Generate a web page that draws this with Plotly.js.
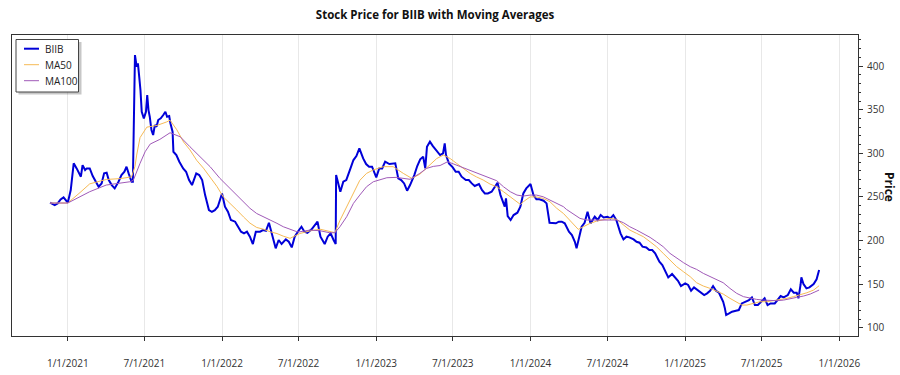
<!DOCTYPE html>
<html>
<head>
<meta charset="utf-8">
<script src="https://cdn.plot.ly/plotly-3.0.1.min.js"></script>
<style>html,body{margin:0;padding:0;background:#fff;}#chart{width:900px;height:375px;}</style>
</head>
<body>
<div id="chart"></div>
<script>
const chartTitle = 'Stock Price for BIIB with Moving Averages';
const yTitle = 'Price';
const seriesNames = ['BIIB', 'MA50', 'MA100'];

const priceDates = [
"2020-11-20","2020-12-01","2020-12-08","2020-12-15","2020-12-22",
"2021-01-01","2021-01-08","2021-01-15","2021-01-22",
"2021-02-01","2021-02-05","2021-02-11","2021-02-15","2021-02-22",
"2021-03-01","2021-03-08","2021-03-15","2021-03-22","2021-03-28",
"2021-04-03","2021-04-08","2021-04-15","2021-04-22",
"2021-05-01","2021-05-08","2021-05-15","2021-05-20","2021-05-25",
"2021-06-01","2021-06-04","2021-06-07","2021-06-09","2021-06-13","2021-06-16","2021-06-19","2021-06-22","2021-06-25","2021-06-30",
"2021-07-05","2021-07-08","2021-07-11","2021-07-14","2021-07-18","2021-07-22","2021-07-26","2021-07-30",
"2021-08-03","2021-08-09","2021-08-15","2021-08-20","2021-08-24","2021-08-29",
"2021-09-01","2021-09-06","2021-09-08","2021-09-15","2021-09-22",
"2021-10-01","2021-10-08","2021-10-15","2021-10-22","2021-11-01","2021-11-08","2021-11-15","2021-11-22","2021-12-01","2021-12-08","2021-12-15","2021-12-22",
"2022-01-01","2022-01-08","2022-01-15","2022-01-22","2022-02-01","2022-02-08","2022-02-15","2022-02-22","2022-03-01","2022-03-08","2022-03-15","2022-03-22",
"2022-04-01","2022-04-08","2022-04-15","2022-04-22","2022-05-01","2022-05-08","2022-05-15","2022-05-22","2022-06-01","2022-06-08","2022-06-15","2022-06-22",
"2022-07-01","2022-07-08","2022-07-15","2022-07-22","2022-08-01","2022-08-08","2022-08-15","2022-08-22","2022-09-01","2022-09-08","2022-09-15","2022-09-22","2022-09-27","2022-09-28",
"2022-10-01","2022-10-08","2022-10-15","2022-10-22","2022-11-01","2022-11-08","2022-11-15","2022-11-22","2022-12-01","2022-12-08","2022-12-15","2022-12-22",
"2023-01-01","2023-01-08","2023-01-15","2023-01-22","2023-02-01","2023-02-08","2023-02-15","2023-02-22","2023-03-01","2023-03-08","2023-03-15","2023-03-22",
"2023-04-01","2023-04-08","2023-04-15","2023-04-22","2023-04-27","2023-05-01","2023-05-08","2023-05-15","2023-05-22","2023-06-01","2023-06-08","2023-06-12","2023-06-15","2023-06-22",
"2023-07-01","2023-07-08","2023-07-15","2023-07-22","2023-08-01","2023-08-08","2023-08-15","2023-08-22","2023-09-01","2023-09-08","2023-09-15","2023-09-22",
"2023-10-01","2023-10-08","2023-10-15","2023-10-22","2023-11-01","2023-11-04","2023-11-08","2023-11-15","2023-11-22","2023-12-01","2023-12-08","2023-12-15","2023-12-22",
"2024-01-01","2024-01-08","2024-01-15","2024-01-22","2024-02-01","2024-02-08","2024-02-15","2024-02-22","2024-03-01","2024-03-08","2024-03-15","2024-03-22",
"2024-04-01","2024-04-08","2024-04-15","2024-04-19","2024-04-22","2024-05-01","2024-05-08","2024-05-15","2024-05-22","2024-06-01","2024-06-08","2024-06-15","2024-06-22",
"2024-07-01","2024-07-08","2024-07-15","2024-07-22","2024-08-01","2024-08-08","2024-08-15","2024-08-22","2024-09-01","2024-09-08","2024-09-15","2024-09-22",
"2024-10-01","2024-10-08","2024-10-15","2024-10-22","2024-11-01","2024-11-08","2024-11-15","2024-11-22","2024-12-01","2024-12-08","2024-12-15","2024-12-22",
"2025-01-01","2025-01-08","2025-01-15","2025-01-22","2025-02-01","2025-02-08","2025-02-15","2025-02-22","2025-03-01","2025-03-08","2025-03-15","2025-03-22",
"2025-04-01","2025-04-05","2025-04-08","2025-04-15","2025-04-22","2025-05-01","2025-05-08","2025-05-15","2025-05-22","2025-06-01","2025-06-08","2025-06-15","2025-06-22",
"2025-07-01","2025-07-08","2025-07-15","2025-07-22","2025-08-01","2025-08-08","2025-08-15","2025-08-22","2025-09-01","2025-09-08","2025-09-15","2025-09-22","2025-09-26",
"2025-10-01","2025-10-03","2025-10-08","2025-10-15","2025-10-22","2025-11-01","2025-11-08","2025-11-12","2025-11-14"];
const priceValues = [
243.4,240.7,242.6,247.2,249.5,
243.4,257.9,288.5,282.7,
273.2,286.5,280.8,282.7,282.7,
274.0,267.4,261.7,265.5,277.0,
277.8,269.4,263.6,259.8,
267.4,275.1,278.9,284.6,277.0,
267.4,267.4,395.5,412.7,399.3,403.1,387.9,372.6,347.7,340.1,
347.7,366.8,349.6,342.0,326.7,321.0,332.4,330.5,
338.2,340.1,343.9,347.7,342.0,342.7,
334.3,324.8,301.8,298.0,290.4,
282.7,278.9,269.4,263.6,277.0,275.1,269.4,252.1,234.9,233.0,234.9,238.8,
254.0,238.8,233.0,223.5,221.6,215.8,210.1,208.2,210.1,204.4,196.0,210.1,
210.1,212.0,211.2,220.4,204.4,191.0,200.6,196.0,201.3,198.6,192.1,204.4,
211.2,215.8,210.1,208.9,212.8,217.4,221.6,204.4,196.0,204.4,208.2,200.6,196.0,275.1,
269.4,256.0,267.4,269.4,282.7,292.3,296.9,305.7,294.2,287.7,284.6,284.6,
272.4,282.7,282.7,290.4,287.7,287.7,288.5,271.3,269.4,265.5,257.1,263.6,
275.1,285.4,293.1,296.1,282.7,307.6,313.3,308.3,303.8,298.0,300.0,311.4,298.0,288.5,
283.9,278.9,278.9,273.2,269.4,269.4,265.5,262.5,264.8,257.9,254.0,254.0,
256.0,261.7,266.3,252.1,238.8,248.3,228.0,223.5,229.2,231.9,238.8,254.0,259.8,
264.8,252.1,247.2,247.2,245.7,242.6,220.4,219.7,219.7,221.6,221.6,219.7,
210.1,206.3,198.6,191.0,196.7,215.8,220.4,233.0,219.7,227.3,223.5,229.2,226.5,
227.3,225.4,229.2,223.5,208.2,201.3,204.4,203.6,201.3,198.6,197.5,192.9,
192.1,189.1,189.1,185.3,175.7,171.9,164.2,157.7,161.6,157.7,153.9,147.8,
150.9,149.0,142.4,146.3,142.4,139.4,137.5,139.4,142.4,147.8,142.4,140.1,
129.8,122.2,114.5,116.4,118.4,119.5,120.3,127.9,129.8,131.7,134.8,126.0,126.0,
129.8,133.7,126.0,127.9,127.9,131.7,136.3,134.8,137.5,144.0,140.1,140.1,133.7,
149.0,157.7,150.1,145.1,146.3,150.1,155.5,162.3,166.1];

const ma50Dates = ["2020-11-20","2021-01-01","2021-01-30","2021-02-22","2021-04-02","2021-05-05","2021-06-01","2021-06-09","2021-06-13","2021-06-21","2021-07-07","2021-07-31","2021-08-23","2021-08-31","2021-09-16","2021-10-02","2021-10-17","2021-11-02","2021-11-18","2021-12-04","2021-12-20","2022-01-04","2022-01-20","2022-02-05","2022-02-21","2022-03-08","2022-03-24","2022-04-09","2022-04-25","2022-05-11","2022-05-26","2022-06-11","2022-07-04","2022-07-28","2022-08-21","2022-09-13","2022-09-25","2022-10-07","2022-10-23","2022-11-08","2022-11-23","2022-12-09","2022-12-25","2023-01-18","2023-02-10","2023-03-06","2023-03-26","2023-04-14","2023-05-08","2023-05-24","2023-06-09","2023-06-25","2023-07-10","2023-07-26","2023-08-11","2023-08-26","2023-09-11","2023-09-27","2023-10-13","2023-10-29","2023-11-14","2023-11-30","2023-12-08","2023-12-15","2023-12-31","2024-01-15","2024-01-31","2024-02-16","2024-03-03","2024-03-19","2024-03-26","2024-04-11","2024-04-23","2024-05-05","2024-05-21","2024-06-06","2024-06-21","2024-07-07","2024-07-23","2024-08-08","2024-08-23","2024-09-08","2024-09-24","2024-10-10","2024-10-25","2024-11-10","2024-11-26","2024-12-12","2024-12-28","2025-01-13","2025-01-28","2025-02-13","2025-03-01","2025-03-16","2025-04-01","2025-04-17","2025-05-03","2025-05-15","2025-05-27","2025-06-11","2025-06-27","2025-07-13","2025-07-29","2025-08-14","2025-08-30","2025-09-14","2025-09-30","2025-10-16","2025-11-01","2025-11-14"];
const ma50Values = [243,243,255,265,270,271,273,285,298,318,330,332,336,338,327,313,304,292,283,273,262,250,243,235,227,220,215,213,210,208,205,202.5,208,211,213,210,209,223,239,254,269,277,281,284.7,284.7,277,271.3,276,286.6,294,298,294,288.5,282.7,277,273,269.4,264.8,261.7,256,250,244.5,241.4,244.5,250,250,248.3,244.5,237,231,227.3,219.7,212.8,215.8,219.7,222.3,224.2,225.4,224.2,217.7,212,208.2,204.4,198.6,192.9,185.3,177.6,170,164.2,158.5,151.6,147.8,145.1,142.4,138.6,133.7,129.8,126,126,127.9,129.8,129.8,131,131.7,133.7,135.6,137.5,140.1,143.2,148.2];

const ma100Dates = ["2020-11-20","2021-01-01","2021-02-22","2021-04-02","2021-05-28","2021-06-05","2021-06-21","2021-07-03","2021-07-15","2021-08-07","2021-08-31","2021-09-24","2021-10-17","2021-11-10","2021-12-04","2021-12-27","2022-01-20","2022-02-13","2022-03-08","2022-03-24","2022-04-09","2022-04-25","2022-05-11","2022-05-26","2022-06-11","2022-06-27","2022-07-04","2022-07-28","2022-08-21","2022-09-13","2022-09-25","2022-10-07","2022-10-23","2022-11-08","2022-11-23","2022-12-09","2022-12-25","2023-01-10","2023-01-26","2023-02-17","2023-03-22","2023-04-14","2023-04-30","2023-05-16","2023-06-01","2023-06-19","2023-07-10","2023-07-26","2023-08-11","2023-08-26","2023-09-11","2023-09-27","2023-10-13","2023-10-29","2023-11-14","2023-11-30","2023-12-15","2023-12-31","2024-01-15","2024-01-31","2024-02-16","2024-03-03","2024-03-19","2024-03-26","2024-04-11","2024-04-27","2024-05-13","2024-05-29","2024-06-21","2024-07-07","2024-07-23","2024-08-08","2024-08-23","2024-09-08","2024-09-24","2024-10-10","2024-10-25","2024-11-10","2024-11-26","2024-12-12","2024-12-28","2025-01-13","2025-01-28","2025-02-13","2025-03-01","2025-03-16","2025-04-01","2025-04-17","2025-05-03","2025-05-19","2025-06-03","2025-06-19","2025-07-05","2025-07-21","2025-08-06","2025-08-22","2025-09-07","2025-09-22","2025-10-08","2025-10-24","2025-11-14"];
const ma100Values = [243,243,256,263.6,267.4,269,288.5,301.8,310.6,316,323.6,319,307.6,296,284.6,271.3,260,248.3,237,231,227.3,224.2,219.7,215.8,212.8,210.1,210,212,211.2,208.9,208.9,215.8,227.3,242.6,252.1,261.7,267.4,270.1,272,272.4,270.2,277,282.7,285,286,290.4,286.5,282.7,280,277,273.9,271.3,268.6,261.7,256,252.1,251,252.1,252.1,250.2,246.4,242.6,238.8,235.7,230.4,225.4,223.5,223.5,224.2,224.2,223.5,220.4,215.8,212,208.2,203.6,198.6,192.9,185.3,179.5,174.6,170,166.9,162.3,158.5,155.5,151.6,145.1,139.4,135.6,133.7,132.5,131.7,131,131,131.7,133.7,134.8,136.3,138.6,143.2];

const colors = ['#0000D8', '#F6BA55', '#A05AB8'];
const widths = [2, 1, 1];
const FONT = 'Open Sans, Noto Sans, sans-serif';

// plot box in pixels
const PL = 12, PR = 858, PT = 35, PB = 336;
const px2x = p => (p - PL) / (PR - PL);
const px2y = p => (PB - p) / (PB - PT);

const traces = [
  {x: priceDates, y: priceValues, name: seriesNames[0]},
  {x: ma50Dates, y: ma50Values, name: seriesNames[1]},
  {x: ma100Dates, y: ma100Values, name: seriesNames[2]}
].map((t, i) => Object.assign(t, {
  type: 'scatter', mode: 'lines',
  line: {color: colors[i], width: widths[i]},
  showlegend: false, hoverinfo: 'skip'
}));

// custom legend (box with shadow)
const shapes = [
  {type: 'rect', xref: 'paper', yref: 'paper', x0: px2x(18.5), x1: px2x(81.5), y0: px2y(94.5), y1: px2y(42),
   fillcolor: 'rgba(0,0,0,0.22)', line: {width: 0}, layer: 'above'},
  {type: 'rect', xref: 'paper', yref: 'paper', x0: px2x(16), x1: px2x(78.5), y0: px2y(92), y1: px2y(39.5),
   fillcolor: '#ffffff', line: {color: '#444', width: 1}, layer: 'above'}
];
const legendRows = [48.7, 64.7, 80.7];
const annotations = [];
seriesNames.forEach((n, i) => {
  shapes.push({type: 'line', xref: 'paper', yref: 'paper', x0: px2x(24), x1: px2x(39), y0: px2y(legendRows[i]), y1: px2y(legendRows[i]),
    line: {color: colors[i], width: widths[i]}, layer: 'above'});
  annotations.push({xref: 'paper', yref: 'paper', x: px2x(42.5), y: px2y(legendRows[i]), text: n, showarrow: false,
    xanchor: 'left', yanchor: 'middle', font: {family: FONT, size: 10, color: '#222'}});
});
annotations.push({xref: 'paper', yref: 'paper', x: px2x(890), y: px2y(187), text: '<b>' + yTitle + '</b>', textangle: 90,
  showarrow: false, xanchor: 'center', yanchor: 'middle', font: {family: FONT, size: 12, color: '#111'}});

const layout = {
  width: 900, height: 375, autosize: false,
  margin: {l: PL, r: 900 - PR, t: PT, b: 375 - PB, pad: 0},
  paper_bgcolor: '#fff', plot_bgcolor: '#fff',
  font: {family: FONT, size: 10, color: '#333'},
  title: {text: '<b>' + chartTitle + '</b>', xref: 'paper', x: 0.5, xanchor: 'center', yref: 'container', y: 1 - 15 / 375, yanchor: 'middle',
    font: {family: FONT, size: 11.5, color: '#111'}},
  showlegend: false,
  xaxis: {
    type: 'date', range: ['2020-08-22', '2026-02-14'],
    tick0: '2021-01-01', dtick: 'M6', tickformat: '%-m/%-d/%Y',
    ticks: 'outside', ticklen: 4, tickcolor: '#333', tickwidth: 1,
    showgrid: true, gridcolor: '#e8e8e8', gridwidth: 1,
    showline: true, linecolor: '#333', linewidth: 1, mirror: true, zeroline: false,
    tickfont: {family: FONT, size: 10, color: '#333'}, ticklabelstandoff: 14
  },
  yaxis: {
    side: 'right', range: [90.5, 435.7], tick0: 100, dtick: 50,
    ticks: 'outside', ticklen: 4, tickcolor: '#333', tickwidth: 1,
    minor: {dtick: 10, ticks: 'outside', ticklen: 2, tickcolor: '#333', showgrid: false},
    showgrid: false, showline: true, linecolor: '#333', linewidth: 1, mirror: true, zeroline: false,
    tickfont: {family: FONT, size: 10, color: '#333'}, ticklabelstandoff: 2
  },
  shapes: shapes,
  annotations: annotations
};

Plotly.newPlot('chart', traces, layout, {staticPlot: true, displayModeBar: false});
</script>
</body>
</html>
